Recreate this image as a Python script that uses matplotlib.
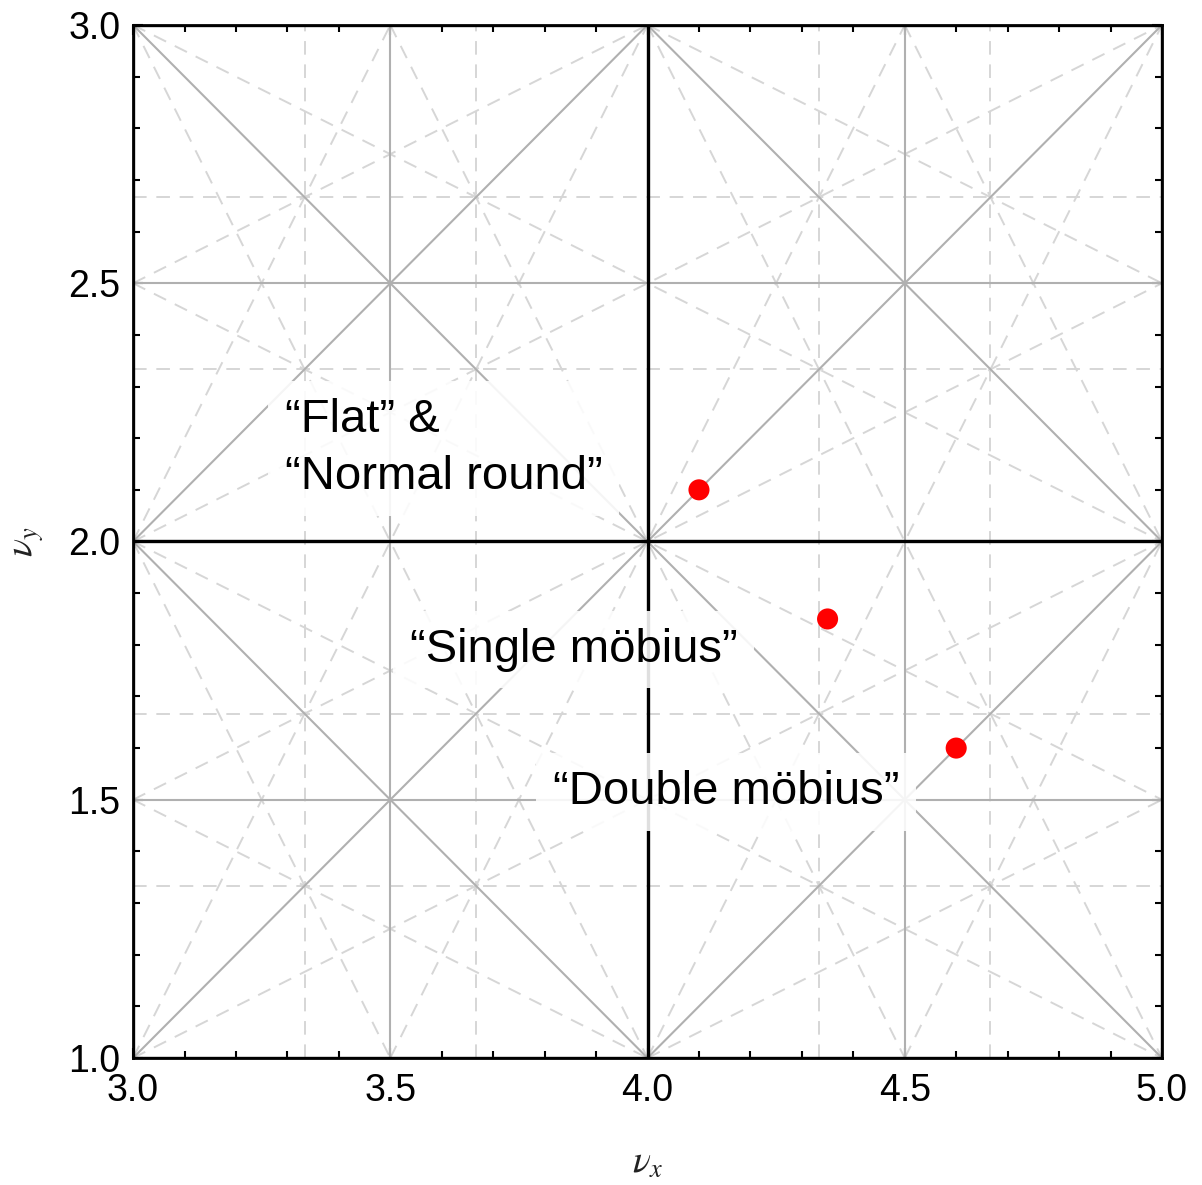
import matplotlib
matplotlib.use("Agg")
import matplotlib.pyplot as plt
from matplotlib.ticker import MultipleLocator
import numpy as np

# working points (tunes)
nu_x = [4.1, 4.35, 4.6]
nu_y = [2.1, 1.85, 1.6]

# labels: text, x, y (data coords of text anchor)
label_text = ["\u201cFlat\u201d &\n\u201cNormal round\u201d",
              "\u201cSingle m\u00f6bius\u201d",
              "\u201cDouble m\u00f6bius\u201d"]
label_x = [3.295, 3.538, 3.816]
label_y = [2.18, 1.79, 1.515]

x_range = (3.0, 5.0)
y_range = (1.0, 3.0)

# resonance coefficients (m, n): m*nu_x + n*nu_y = integer
order1 = [(1, 0), (0, 1)]
order2 = [(2, 0), (0, 2), (1, 1), (1, -1)]
order3 = [(3, 0), (0, 3), (1, 2), (2, 1), (1, -2), (2, -1)]

plt.rcParams["font.family"] = ["Liberation Sans", "DejaVu Sans"]
plt.rcParams["mathtext.fontset"] = "stix"

fig = plt.figure(figsize=(12.02, 11.85), dpi=100)
ax = fig.add_axes([0.1107, 0.1072, 0.8560, 0.8717])


def draw_resonances(coeffs, **kw):
    corners = [(x, y) for x in x_range for y in y_range]
    for m, n in coeffs:
        vals = [m * x + n * y for x, y in corners]
        for p in range(int(np.floor(min(vals))), int(np.ceil(max(vals))) + 1):
            if n == 0:
                ax.axvline(p / m, **kw)
            elif m == 0:
                ax.axhline(p / n, **kw)
            else:
                ax.axline((0, p / n), slope=-m / n, **kw)


draw_resonances(order3, color="#d6d6d6", lw=1.4, ls=(0, (7, 5)), zorder=1)
draw_resonances(order2, color="#b0b0b0", lw=1.5, zorder=2)
draw_resonances(order1, color="black", lw=2.4, zorder=3)

ax.scatter(nu_x, nu_y, s=230, color="#ff0000", edgecolors="none", zorder=6)

for txt, tx, ty in zip(label_text, label_x, label_y):
    ax.text(tx, ty, txt, fontsize=34, ha="left", va="center", zorder=5,
            linespacing=1.4,
            bbox=dict(facecolor="white", edgecolor="none", alpha=0.88, pad=12))

ax.set_xlim(*x_range)
ax.set_ylim(*y_range)
ax.xaxis.set_major_locator(MultipleLocator(0.5))
ax.yaxis.set_major_locator(MultipleLocator(0.5))
ax.xaxis.set_minor_locator(MultipleLocator(0.1))
ax.yaxis.set_minor_locator(MultipleLocator(0.1))
ax.tick_params(which="both", direction="in", top=True, right=True,
               width=1.5, colors="black")
ax.tick_params(which="major", length=7, labelsize=27)
ax.tick_params(which="minor", length=5)
ax.tick_params(axis="x", which="major", pad=11)
ax.tick_params(axis="y", which="major", pad=9)
ax.xaxis.set_major_formatter(plt.FormatStrFormatter("%.1f"))
ax.yaxis.set_major_formatter(plt.FormatStrFormatter("%.1f"))
for s in ax.spines.values():
    s.set_linewidth(2)
    s.set_zorder(7)

ax.set_xlabel(r"$\nu_x$", fontsize=27, color="#222222", labelpad=26)
ax.set_ylabel(r"$\nu_y$", fontsize=27, color="#222222", labelpad=16)

fig.savefig("out.png", dpi=100)
